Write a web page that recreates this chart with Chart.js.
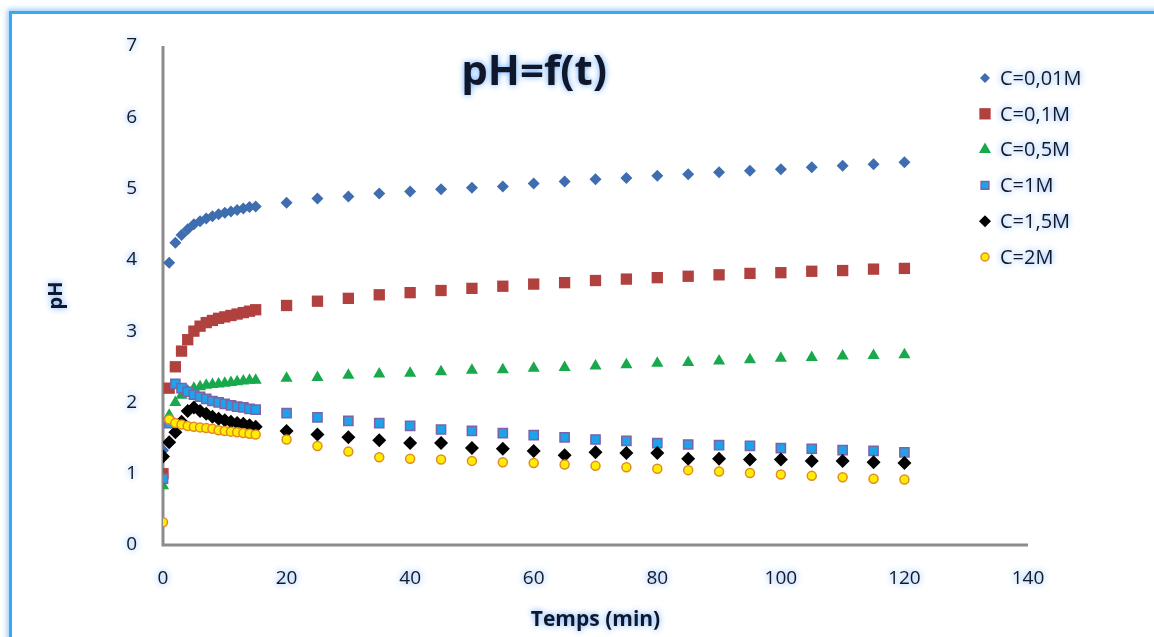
<!DOCTYPE html>
<html>
<head>
<meta charset="utf-8">
<title>pH=f(t)</title>
<script src="https://cdn.jsdelivr.net/npm/chart.js@4.4.1/dist/chart.umd.min.js"></script>
<style>
  html, body { margin: 0; padding: 0; background: #fff; overflow: hidden; }
  #frame {
    position: absolute; left: 9px; top: 11px;
    width: 1400px; height: 900px;
    border: 3px solid #35a9f2;
    box-shadow: 0 0 5px 2px rgba(120, 185, 245, 0.7);
  }
  #phChart { position: absolute; left: 0; top: 0; }
</style>
</head>
<body>
<div id="frame"></div>
<canvas id="phChart" width="1154" height="637"></canvas>
<script>
// time in minutes
const temps = [0, 1, 2, 3, 4, 5, 6, 7, 8, 9, 10, 11, 12, 13, 14, 15,
  20, 25, 30, 35, 40, 45, 50, 55, 60, 65, 70, 75, 80, 85, 90, 95, 100, 105, 110, 115, 120];

// pH readings for each concentration
const ph001 = [1.33, 3.96, 4.24, 4.35, 4.43, 4.50, 4.54, 4.58, 4.61, 4.64, 4.66, 4.68, 4.70, 4.72, 4.74, 4.75,
  4.80, 4.86, 4.89, 4.93, 4.96, 4.99, 5.01, 5.03, 5.07, 5.10, 5.13, 5.15, 5.18, 5.20, 5.23, 5.25, 5.27, 5.30, 5.32, 5.34, 5.37];
const ph01 = [1.00, 2.20, 2.50, 2.72, 2.88, 3.00, 3.07, 3.12, 3.15, 3.18, 3.20, 3.22, 3.24, 3.26, 3.28, 3.30,
  3.36, 3.42, 3.46, 3.51, 3.54, 3.57, 3.60, 3.63, 3.66, 3.68, 3.71, 3.73, 3.75, 3.77, 3.79, 3.81, 3.82, 3.84, 3.85, 3.87, 3.88];
const ph05 = [0.83, 1.82, 2.00, 2.10, 2.16, 2.20, 2.22, 2.24, 2.25, 2.26, 2.27, 2.28, 2.29, 2.30, 2.31, 2.31,
  2.34, 2.35, 2.38, 2.40, 2.41, 2.43, 2.45, 2.46, 2.48, 2.49, 2.51, 2.53, 2.55, 2.56, 2.58, 2.60, 2.62, 2.63, 2.65, 2.66, 2.67];
const ph1 = [0.93, 1.71, 2.26, 2.20, 2.15, 2.11, 2.08, 2.05, 2.02, 2.00, 1.98, 1.96, 1.94, 1.93, 1.91, 1.90,
  1.85, 1.79, 1.74, 1.71, 1.67, 1.62, 1.60, 1.57, 1.54, 1.51, 1.48, 1.46, 1.43, 1.41, 1.40, 1.39, 1.36, 1.35, 1.33, 1.32, 1.30];
const ph15 = [1.24, 1.44, 1.58, 1.73, 1.88, 1.93, 1.88, 1.84, 1.80, 1.77, 1.75, 1.73, 1.71, 1.70, 1.68, 1.66,
  1.60, 1.55, 1.51, 1.47, 1.43, 1.43, 1.36, 1.35, 1.32, 1.26, 1.30, 1.29, 1.29, 1.21, 1.21, 1.20, 1.20, 1.18, 1.18, 1.16, 1.15];
const ph2 = [0.32, 1.76, 1.71, 1.69, 1.67, 1.66, 1.65, 1.64, 1.63, 1.61, 1.60, 1.59, 1.58, 1.57, 1.56, 1.55,
  1.48, 1.39, 1.31, 1.23, 1.21, 1.20, 1.18, 1.16, 1.15, 1.13, 1.11, 1.09, 1.07, 1.05, 1.03, 1.01, 0.99, 0.97, 0.95, 0.93, 0.92];

const seriesLabels = ['C=0,01M', 'C=0,1M', 'C=0,5M', 'C=1M', 'C=1,5M', 'C=2M'];

const toPoints = (values) => temps.map((t, i) => ({ x: t, y: values[i] }));

const textColor = '#141a2a';

const glow = (ctx) => {
  ctx.shadowColor = 'rgba(70, 150, 255, 0.85)';
  ctx.shadowBlur = 6;
};
const noGlow = (ctx) => {
  ctx.shadowColor = 'rgba(0, 0, 0, 0)';
  ctx.shadowBlur = 0;
};

// axis lines, title and legend drawn by hand
const chartDecor = {
  id: 'chartDecor',
  beforeDraw(chart) {
    glow(chart.ctx);
  },
  beforeDatasetsDraw(chart) {
    const ctx = chart.ctx;
    const a = chart.chartArea;
    noGlow(ctx);
    ctx.save();
    ctx.strokeStyle = '#8c8c8c';
    ctx.lineWidth = 3;
    ctx.beginPath();
    ctx.moveTo(a.left, a.top);
    ctx.lineTo(a.left, a.bottom);
    ctx.lineTo(a.right, a.bottom);
    ctx.stroke();
    ctx.restore();
  },
  afterDatasetsDraw(chart) {
    const ctx = chart.ctx;
    const a = chart.chartArea;
    ctx.save();
    glow(ctx);
    ctx.fillStyle = '#10172a';
    ctx.font = 'bold 42px "Open Sans"';
    ctx.textAlign = 'center';
    ctx.textBaseline = 'middle';
    ctx.fillText('pH=f(t)', a.left + 0.429 * (a.right - a.left), a.top + 27);

    const x0 = a.right - 43;
    const y0 = a.top + 32;
    const step = 35.8;
    chart.data.datasets.forEach((ds, i) => {
      const y = y0 + i * step;
      noGlow(ctx);
      ctx.fillStyle = ds.backgroundColor;
      ctx.strokeStyle = ds.borderColor;
      ctx.lineWidth = ds.borderWidth;
      Chart.helpers.drawPoint(ctx, {
        pointStyle: ds.pointStyle,
        radius: ds.legendRadius,
        borderWidth: ds.borderWidth,
        rotation: 0
      }, x0, y);
      glow(ctx);
      ctx.fillStyle = textColor;
      ctx.font = '20px "Open Sans"';
      ctx.textAlign = 'left';
      ctx.fillText(ds.label, x0 + 15, y + 1);
    });
    ctx.restore();
  },
  afterDraw(chart) {
    noGlow(chart.ctx);
  }
};

const phData = {
  datasets: [
    {
      label: seriesLabels[0],
      data: toPoints(ph001),
      pointStyle: 'rectRot',
      pointRadius: 6,
      legendRadius: 5,
      backgroundColor: '#3e6db0',
      borderColor: '#3e6db0',
      borderWidth: 0,
      order: 5
    },
    {
      label: seriesLabels[1],
      data: toPoints(ph01),
      pointStyle: 'rect',
      pointRadius: 8,
      legendRadius: 8,
      backgroundColor: '#b0413e',
      borderColor: '#b0413e',
      borderWidth: 0,
      order: 4
    },
    {
      label: seriesLabels[2],
      data: toPoints(ph05),
      pointStyle: 'triangle',
      pointRadius: 7,
      legendRadius: 7,
      backgroundColor: '#17a94b',
      borderColor: '#17a94b',
      borderWidth: 0,
      order: 3
    },
    {
      label: seriesLabels[3],
      data: toPoints(ph1),
      pointStyle: 'rect',
      pointRadius: 6.5,
      legendRadius: 5.5,
      backgroundColor: '#1ea3ea',
      borderColor: '#7b63a8',
      borderWidth: 1.5,
      order: 2
    },
    {
      label: seriesLabels[4],
      data: toPoints(ph15),
      pointStyle: 'rectRot',
      pointRadius: 7,
      legendRadius: 6,
      backgroundColor: '#000000',
      borderColor: '#000000',
      borderWidth: 0,
      order: 1
    },
    {
      label: seriesLabels[5],
      data: toPoints(ph2),
      pointStyle: 'circle',
      pointRadius: 4.5,
      legendRadius: 4,
      backgroundColor: '#ffee00',
      borderColor: '#e48a25',
      borderWidth: 1.5,
      order: 0
    }
  ]
};

const phConfig = {
  type: 'scatter',
  data: phData,
  plugins: [chartDecor],
  options: {
    responsive: false,
    animation: false,
    layout: {
      padding: { left: 40, top: 46, right: 126, bottom: 0 }
    },
    plugins: {
      legend: { display: false },
      title: { display: false },
      tooltip: { enabled: false }
    },
    elements: {
      point: { hoverRadius: 0 }
    },
    scales: {
      x: {
        type: 'linear',
        min: 0,
        max: 140,
        afterFit(scale) { scale.height = 92; },
        grid: { display: false, drawTicks: false },
        border: { display: false },
        ticks: {
          stepSize: 20,
          padding: 22,
          color: textColor,
          font: { family: 'Open Sans', size: 19 }
        },
        title: {
          display: true,
          text: 'Temps (min)',
          color: '#10172a',
          font: { family: 'Open Sans', size: 21, weight: 'bold' }
        }
      },
      y: {
        min: 0,
        max: 7,
        afterFit(scale) { scale.width = 123; },
        grid: { display: false, drawTicks: false },
        border: { display: false },
        ticks: {
          stepSize: 1,
          padding: 26,
          color: textColor,
          font: { family: 'Open Sans', size: 19 }
        },
        title: {
          display: true,
          text: 'pH',
          color: '#10172a',
          font: { family: 'Open Sans', size: 20, weight: 'bold' }
        }
      }
    }
  }
};

const phChart = new Chart(
  document.getElementById('phChart'),
  phConfig
);
</script>
</body>
</html>
